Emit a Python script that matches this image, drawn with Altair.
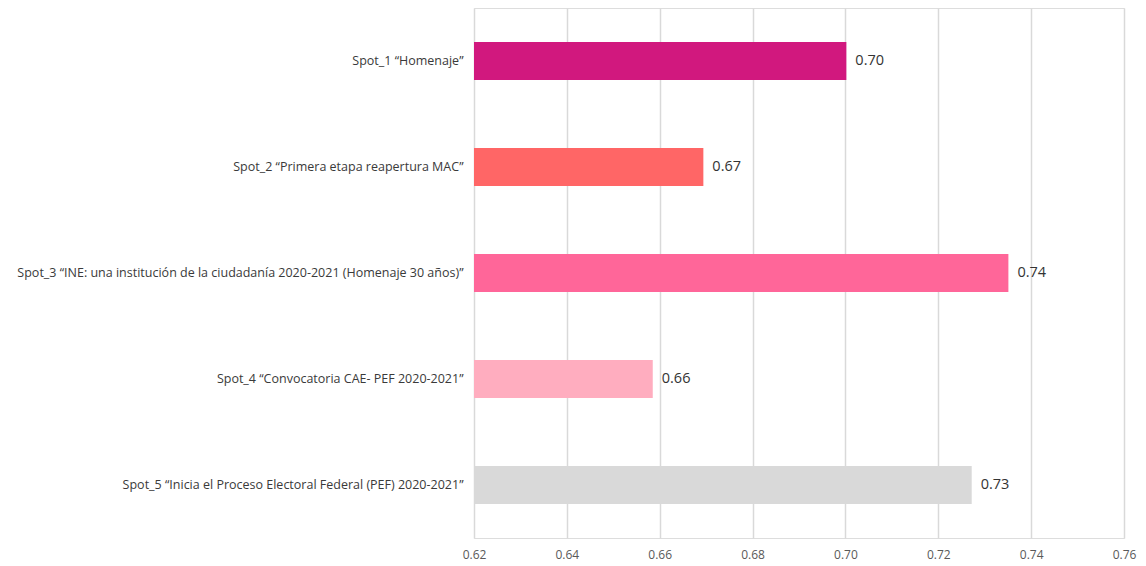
import altair as alt
import pandas as pd

categories = [
    "Spot_1 \u201cHomenaje\u201d",
    "Spot_2 \u201cPrimera etapa reapertura MAC\u201d",
    "Spot_3 \u201cINE: una instituci\u00f3n de la ciudadan\u00eda 2020-2021 (Homenaje 30 a\u00f1os)\u201d",
    "Spot_4 \u201cConvocatoria CAE- PEF 2020-2021\u201d",
    "Spot_5 \u201cInicia el Proceso Electoral Federal (PEF) 2020-2021\u201d",
]
values = [0.7002, 0.6694, 0.7351, 0.6585, 0.7272]
colors = ["#D1187E", "#FF6666", "#FF6699", "#FFADBF", "#D9D9D9"]
x_ticks = [0.62, 0.64, 0.66, 0.68, 0.70, 0.72, 0.74, 0.76]

df = pd.DataFrame({"cat": categories, "val": values, "color": colors})

FONT = "Open Sans"

y = alt.Y("cat:N", sort=categories, title=None,
          axis=alt.Axis(labelFont=FONT, labelFontSize=12.5, labelColor="#3a3a3a",
                        ticks=False, domain=False, labelPadding=11, labelLimit=600))
x = alt.X("val:Q", title=None,
          scale=alt.Scale(domain=[0.62, 0.76], nice=False, zero=False),
          axis=alt.Axis(values=x_ticks, format=".2f", labelFont=FONT, labelFontSize=12,
                        labelColor="#595959", ticks=False, domain=False,
                        grid=True, gridColor="#D9D9D9", gridWidth=1.5,
                        labelPadding=11, labelFlush=False))

bars = alt.Chart(df).mark_bar(size=38, clip=True).encode(
    y=y, x=x, color=alt.Color("color:N", scale=None)
)
labels = alt.Chart(df).mark_text(align="left", dx=9, font=FONT, fontSize=14.5,
                                 color="#333333").encode(
    y=alt.Y("cat:N", sort=categories), x="val:Q",
    text=alt.Text("val:Q", format=".2f")
)

chart = alt.layer(bars, labels).properties(
    width=650, height=530,
    autosize=alt.AutoSizeParams(type="none"),
    padding={"left": 466, "top": 0, "right": 14, "bottom": 30},
).configure_view(stroke=None).configure(background="white")

chart.save("out.html", embed_options={"renderer": "svg", "actions": False})
